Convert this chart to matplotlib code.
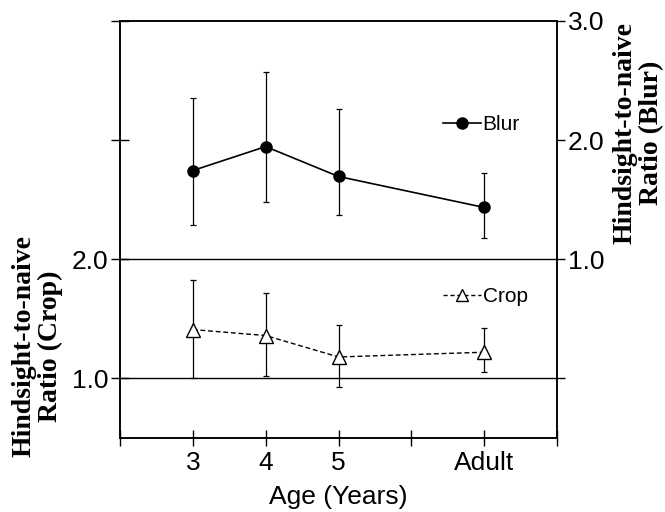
import matplotlib
matplotlib.use("Agg")
import matplotlib.pyplot as plt
from matplotlib.lines import Line2D

# ---- data ----
age_labels = ["3", "4", "5", "Adult"]
age_pos = [1, 2, 3, 5]

blur_mean = [1.745, 1.946, 1.695, 1.435]
blur_upper = [2.35, 2.573, 2.264, 1.728]
blur_lower = [1.285, 1.477, 1.368, 1.176]

crop_mean = [1.41, 1.36, 1.18, 1.22]
crop_upper = [1.83, 1.72, 1.45, 1.42]
crop_lower = [1.00, 1.02, 0.93, 1.05]

left_ticks = [1, 2, 3, 4]
left_ticklabels = ["1.0", "2.0", "", ""]
right_ticks = [0, 1, 2, 3]
right_ticklabels = ["", "1.0", "2.0", "3.0"]

sans = ["Liberation Sans", "DejaVu Sans"]
serif = ["Liberation Serif", "DejaVu Serif"]

fig = plt.figure(figsize=(6.65, 5.12), dpi=100)
ax = fig.add_axes([120/665, 1-438/512, (557-120)/665, (438-21)/512])
ax2 = ax.twinx()

ax.set_xlim(0, 6)
ax.set_ylim(0.5, 4.0)
ax2.set_ylim(-0.5, 3.0)

for sp in ax.spines.values():
    sp.set_linewidth(1.1)
for sp in ax2.spines.values():
    sp.set_linewidth(1.1)

# divider / baseline lines
ax.axhline(2.0, color="black", lw=1.0, zorder=1)
ax.axhline(1.0, color="black", lw=1.0, zorder=1)

# Crop (left axis)
ax.errorbar(age_pos, crop_mean,
            yerr=[[m - l for m, l in zip(crop_mean, crop_lower)],
                  [u - m for m, u in zip(crop_mean, crop_upper)]],
            fmt="none", ecolor="black", elinewidth=0.9, capsize=2.2, capthick=0.9, zorder=2)
ax.plot(age_pos, crop_mean, color="black", lw=1.0, ls=(0, (3.5, 2)),
        marker="^", markersize=10, markerfacecolor="white", markeredgecolor="black",
        markeredgewidth=1.0, zorder=3)

# Blur (right axis)
ax2.errorbar(age_pos, blur_mean,
             yerr=[[m - l for m, l in zip(blur_mean, blur_lower)],
                   [u - m for m, u in zip(blur_mean, blur_upper)]],
             fmt="none", ecolor="black", elinewidth=0.9, capsize=2.2, capthick=0.9, zorder=2)
ax2.plot(age_pos, blur_mean, color="black", lw=1.2, marker="o", markersize=8,
         markerfacecolor="black", markeredgecolor="black", zorder=3)

# ticks
ax.set_xticks(range(0, 7))
ax.set_xticklabels(["", age_labels[0], age_labels[1], age_labels[2], "", age_labels[3], ""],
                   fontfamily=sans, fontsize=19)
ax.tick_params(axis="x", direction="inout", length=11, width=1.0, pad=4)
ax.set_yticks(left_ticks)
ax.set_yticklabels(left_ticklabels, fontfamily=sans, fontsize=19)
ax.tick_params(axis="y", direction="inout", length=13, width=1.0, pad=2)
ax2.set_yticks(right_ticks)
ax2.set_yticklabels(right_ticklabels, fontfamily=sans, fontsize=19)
ax2.tick_params(axis="y", direction="out", length=6, width=1.0, pad=2)

ax.set_xlabel("Age (Years)", fontfamily=sans, fontsize=19, labelpad=7)

fig.text(37/665, 1-346/512, "Hindsight-to-naive\nRatio (Crop)", rotation=90,
         ha="center", va="center", multialignment="center",
         fontfamily=serif, fontweight="bold", fontsize=20, linespacing=1.08)
fig.text(638/665, 1-133/512, "Hindsight-to-naive\nRatio (Blur)", rotation=90,
         ha="center", va="center", multialignment="center",
         fontfamily=serif, fontweight="bold", fontsize=20, linespacing=1.08)

# legends
h_blur = Line2D([], [], color="black", lw=1.2, marker="o", markersize=8)
h_crop = Line2D([], [], color="black", lw=1.0, ls=(0, (3, 2)), marker="^", markersize=9,
                markerfacecolor="white", markeredgecolor="black")
leg1 = ax2.legend([h_blur], ["Blur"], loc="center left",
                  bbox_to_anchor=(443/665, 1-125/512), bbox_transform=fig.transFigure,
                  frameon=False, borderpad=0, borderaxespad=0, handlelength=1.8,
                  handletextpad=0.1, prop={"family": sans, "size": 15})
leg2 = ax2.legend([h_crop], ["Crop"], loc="center left",
                  bbox_to_anchor=(443/665, 1-297/512), bbox_transform=fig.transFigure,
                  frameon=False, borderpad=0, borderaxespad=0, handlelength=1.8,
                  handletextpad=0.1, prop={"family": sans, "size": 15})
ax2.add_artist(leg1)

fig.savefig("out.png", dpi=100)
